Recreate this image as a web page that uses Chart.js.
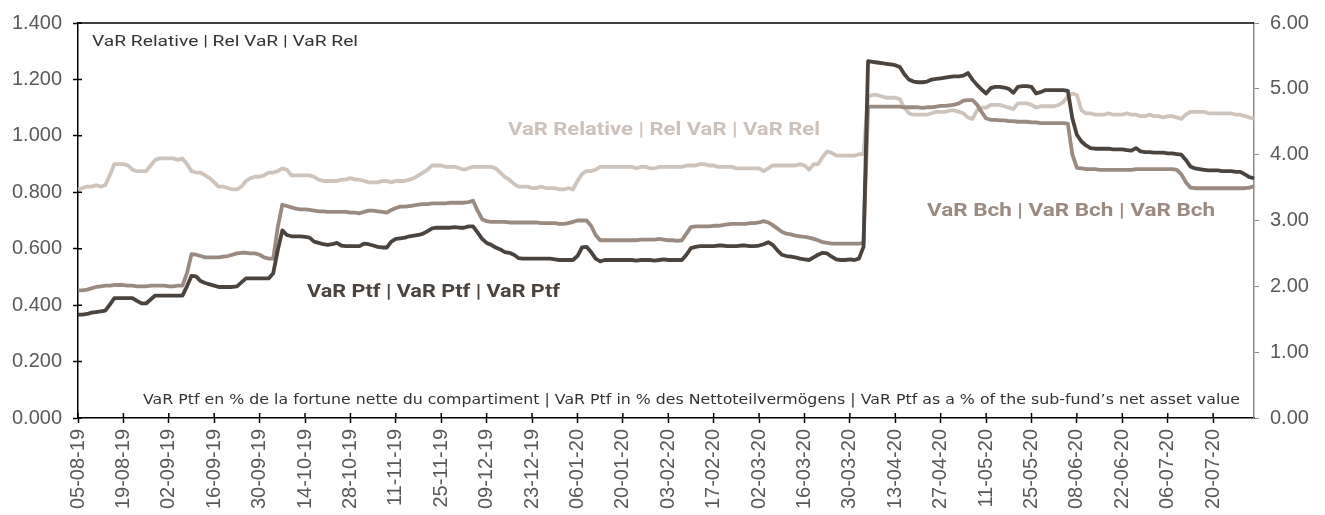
<!DOCTYPE html>
<html>
<head>
<meta charset="utf-8">
<script src="https://cdn.jsdelivr.net/npm/chart.js@4.4.1/dist/chart.umd.min.js"></script>
<style>
html,body{margin:0;padding:0;background:#fff;}
#wrap{width:1325px;height:515px;position:relative;}
</style>
</head>
<body>
<div id="wrap"><canvas id="c" width="1325" height="515"></canvas></div>
<script>
// ---- Data ----
const startDate = '2019-08-05';
const numDays = 260; // business days 05-08-19 .. 31-07-20
const tickLabels = ['05-08-19','19-08-19','02-09-19','16-09-19','30-09-19','14-10-19','28-10-19','11-11-19','25-11-19','09-12-19','23-12-19','06-01-20','20-01-20','03-02-20','17-02-20','02-03-20','16-03-20','30-03-20','13-04-20','27-04-20','11-05-20','25-05-20','08-06-20','22-06-20','06-07-20','20-07-20'];

// VaR Ptf (% , right axis)
const varPtf = [
1.57,1.57,1.58,1.60,1.61,1.62,1.63,1.72,1.82,1.82,
1.82,1.82,1.82,1.78,1.74,1.74,1.80,1.86,1.86,1.86,
1.86,1.86,1.86,1.86,2.00,2.16,2.15,2.08,2.05,2.03,
2.01,1.99,1.99,1.99,1.99,2.00,2.06,2.12,2.12,2.12,
2.12,2.12,2.12,2.20,2.55,2.85,2.78,2.76,2.76,2.76,
2.75,2.74,2.68,2.66,2.64,2.63,2.64,2.66,2.62,2.61,
2.61,2.61,2.61,2.65,2.64,2.62,2.60,2.59,2.59,2.68,
2.72,2.73,2.74,2.76,2.77,2.78,2.80,2.84,2.88,2.89,
2.89,2.89,2.89,2.90,2.89,2.89,2.91,2.91,2.82,2.72,
2.66,2.63,2.59,2.56,2.52,2.51,2.48,2.43,2.42,2.42,
2.42,2.42,2.42,2.42,2.42,2.41,2.40,2.40,2.40,2.40,
2.46,2.59,2.60,2.52,2.42,2.38,2.40,2.40,2.40,2.40,
2.40,2.40,2.40,2.39,2.40,2.40,2.40,2.39,2.40,2.41,
2.40,2.40,2.40,2.40,2.48,2.58,2.60,2.61,2.61,2.61,
2.61,2.62,2.62,2.61,2.61,2.61,2.62,2.62,2.61,2.61,
2.62,2.64,2.67,2.63,2.55,2.48,2.46,2.45,2.44,2.42,
2.41,2.40,2.44,2.48,2.51,2.50,2.45,2.41,2.40,2.40,
2.41,2.40,2.42,2.60,5.42,5.41,5.40,5.39,5.38,5.37,
5.36,5.33,5.22,5.14,5.11,5.10,5.10,5.11,5.14,5.15,
5.16,5.17,5.18,5.19,5.19,5.20,5.24,5.14,5.06,4.99,
4.93,5.01,5.03,5.03,5.02,5.00,4.94,5.03,5.04,5.04,
5.03,4.93,4.95,4.98,4.98,4.98,4.98,4.98,4.97,4.55,
4.30,4.20,4.14,4.10,4.09,4.09,4.09,4.09,4.08,4.08,
4.08,4.07,4.06,4.10,4.05,4.04,4.04,4.03,4.03,4.03,
4.02,4.02,4.01,4.00,3.92,3.82,3.79,3.78,3.77,3.76,
3.76,3.76,3.75,3.75,3.75,3.74,3.74,3.70,3.66,3.64
];

// VaR Bch (% , right axis)
const varBch = [
1.94,1.94,1.95,1.97,1.99,2.00,2.01,2.01,2.02,2.02,
2.02,2.01,2.01,2.00,2.00,2.00,2.01,2.01,2.01,2.01,
2.00,2.00,2.01,2.01,2.20,2.49,2.48,2.46,2.44,2.44,
2.44,2.44,2.45,2.46,2.48,2.50,2.51,2.51,2.50,2.50,
2.48,2.44,2.42,2.42,2.90,3.24,3.22,3.20,3.18,3.17,
3.17,3.16,3.15,3.14,3.14,3.13,3.13,3.13,3.13,3.13,
3.12,3.12,3.11,3.13,3.15,3.15,3.14,3.13,3.12,3.16,
3.19,3.21,3.21,3.22,3.23,3.24,3.25,3.25,3.26,3.26,
3.26,3.26,3.27,3.27,3.27,3.27,3.28,3.30,3.15,3.02,
2.99,2.98,2.98,2.98,2.98,2.97,2.97,2.97,2.97,2.97,
2.97,2.97,2.96,2.96,2.96,2.96,2.95,2.95,2.96,2.98,
3.00,3.00,3.00,2.92,2.78,2.70,2.70,2.70,2.70,2.70,
2.70,2.70,2.70,2.70,2.71,2.71,2.71,2.71,2.72,2.71,
2.70,2.70,2.69,2.70,2.80,2.90,2.91,2.91,2.91,2.91,
2.92,2.92,2.93,2.94,2.95,2.95,2.95,2.95,2.96,2.96,
2.97,2.99,2.97,2.93,2.88,2.83,2.80,2.79,2.77,2.76,
2.75,2.74,2.72,2.70,2.67,2.66,2.65,2.65,2.65,2.65,
2.65,2.65,2.65,2.66,4.73,4.73,4.73,4.73,4.73,4.73,
4.73,4.73,4.72,4.72,4.72,4.72,4.71,4.72,4.72,4.73,
4.74,4.74,4.75,4.76,4.78,4.82,4.83,4.83,4.76,4.65,
4.55,4.53,4.53,4.52,4.52,4.51,4.51,4.50,4.50,4.50,
4.49,4.49,4.48,4.48,4.48,4.48,4.48,4.48,4.47,4.00,
3.80,3.79,3.78,3.78,3.78,3.77,3.77,3.77,3.77,3.77,
3.77,3.77,3.77,3.78,3.78,3.78,3.78,3.78,3.78,3.78,
3.78,3.78,3.77,3.70,3.58,3.50,3.49,3.49,3.49,3.49,
3.49,3.49,3.49,3.49,3.49,3.49,3.49,3.49,3.50,3.52
];

// VaR Relative (ratio, left axis)
const varRel = [
0.81,0.815,0.82,0.82,0.825,0.82,0.825,0.86,0.90,0.90,
0.90,0.895,0.88,0.875,0.875,0.875,0.895,0.915,0.92,0.92,
0.92,0.92,0.915,0.92,0.90,0.875,0.87,0.87,0.86,0.85,
0.835,0.82,0.82,0.815,0.81,0.81,0.82,0.84,0.85,0.855,
0.855,0.86,0.87,0.87,0.875,0.885,0.88,0.86,0.86,0.86,
0.86,0.86,0.855,0.845,0.84,0.84,0.84,0.84,0.845,0.845,
0.85,0.845,0.845,0.84,0.835,0.835,0.835,0.84,0.84,0.835,
0.84,0.84,0.84,0.845,0.85,0.86,0.87,0.88,0.895,0.895,
0.895,0.89,0.89,0.89,0.885,0.88,0.885,0.89,0.89,0.89,
0.89,0.89,0.885,0.87,0.855,0.845,0.83,0.82,0.82,0.82,
0.815,0.815,0.82,0.815,0.815,0.815,0.81,0.81,0.815,0.81,
0.84,0.865,0.875,0.875,0.88,0.89,0.89,0.89,0.89,0.89,
0.89,0.89,0.89,0.885,0.89,0.89,0.885,0.885,0.89,0.89,
0.89,0.89,0.89,0.89,0.895,0.895,0.895,0.90,0.90,0.895,
0.895,0.89,0.89,0.89,0.89,0.885,0.885,0.885,0.885,0.885,
0.885,0.875,0.885,0.895,0.895,0.895,0.895,0.895,0.895,0.90,
0.895,0.88,0.90,0.90,0.925,0.945,0.94,0.93,0.93,0.93,
0.93,0.93,0.935,0.935,1.14,1.145,1.145,1.14,1.135,1.135,
1.135,1.13,1.10,1.08,1.075,1.075,1.075,1.075,1.08,1.085,
1.085,1.085,1.09,1.09,1.085,1.08,1.065,1.06,1.09,1.10,
1.10,1.11,1.11,1.11,1.105,1.10,1.095,1.115,1.115,1.115,
1.11,1.10,1.105,1.105,1.105,1.105,1.11,1.12,1.14,1.15,
1.145,1.09,1.08,1.08,1.075,1.075,1.075,1.08,1.075,1.075,
1.075,1.08,1.075,1.075,1.07,1.07,1.075,1.07,1.07,1.065,
1.07,1.07,1.065,1.06,1.075,1.085,1.085,1.085,1.085,1.08,
1.08,1.08,1.08,1.08,1.08,1.075,1.075,1.07,1.065,1.06
];

// categories: business days (dd-mm-yy)
const categories = [];
(function(){
  const d = new Date(startDate + 'T12:00:00Z');
  while (categories.length < numDays) {
    const wd = d.getUTCDay();
    if (wd !== 0 && wd !== 6) {
      const dd = String(d.getUTCDate()).padStart(2,'0');
      const mm = String(d.getUTCMonth()+1).padStart(2,'0');
      const yy = String(d.getUTCFullYear()).slice(2);
      categories.push(dd + '-' + mm + '-' + yy);
    }
    d.setUTCDate(d.getUTCDate()+1);
  }
})();

const leftTicks = [0,0.2,0.4,0.6,0.8,1.0,1.2,1.4];
const rightTicks = [0,1,2,3,4,5,6];

// ---- Chart ----
const tickFont = {family: '"Liberation Sans", Arial, sans-serif', size: 20};
const tickColor = '#595959';

function fitText(ctx, text, x, y, font, color, width, align) {
  ctx.save();
  ctx.font = font;
  ctx.fillStyle = color;
  ctx.textAlign = 'left';
  ctx.textBaseline = 'alphabetic';
  const w = ctx.measureText(text).width;
  const sx = width / w;
  const x0 = align === 'right' ? x - width : x;
  ctx.translate(x0, y);
  ctx.scale(sx, 1);
  ctx.fillText(text, 0, 0);
  ctx.restore();
}

const decor = {
  id: 'decor',
  afterDraw(chart) {
    const ctx = chart.ctx;
    const {left, right, top, bottom} = chart.chartArea;
    const xs = chart.scales.x, ys = chart.scales.y;
    ctx.save();
    ctx.strokeStyle = '#000';
    ctx.lineWidth = 1.5;
    ctx.beginPath(); ctx.moveTo(left, top); ctx.lineTo(right, top); ctx.stroke();
    ctx.beginPath();
    leftTicks.forEach(v => { const p = ys.getPixelForValue(v); ctx.moveTo(left, p); ctx.lineTo(left + 4, p); });
    categories.forEach((c, i) => { if (tickLabels.includes(c)) { const p = xs.getPixelForValue(i); ctx.moveTo(p, bottom); ctx.lineTo(p, bottom - 5); } });
    ctx.stroke();
    ctx.restore();

    fitText(ctx, 'VaR Relative | Rel VaR | VaR Rel', 92, 46, '15px Roboto, sans-serif', '#333333', 266);
    fitText(ctx, 'VaR Relative | Rel VaR | VaR Rel', 508, 135, 'bold 19px Roboto, sans-serif', '#cdc2bb', 312);
    fitText(ctx, 'VaR Ptf | VaR Ptf | VaR Ptf', 307, 297, 'bold 19px Roboto, sans-serif', '#4b433e', 253);
    fitText(ctx, 'VaR Bch | VaR Bch | VaR Bch', 927, 216, 'bold 19px Roboto, sans-serif', '#9a8a80', 288);
    fitText(ctx, 'VaR Ptf en % de la fortune nette du compartiment | VaR Ptf in % des Nettoteilvermögens | VaR Ptf as a % of the sub-fund\u2019s net asset value', 1240, 404, '14px "DejaVu Sans", sans-serif', '#333333', 1097, 'right');
  }
};

new Chart(document.getElementById('c'), {
  type: 'line',
  data: {
    labels: categories,
    datasets: [
      {label: 'VaR Ptf', data: varPtf, yAxisID: 'y1', borderColor: '#4b433e', borderWidth: 3.8, pointRadius: 0, tension: 0, borderJoinStyle: 'round'},
      {label: 'VaR Bch', data: varBch, yAxisID: 'y1', borderColor: '#9a8a80', borderWidth: 3.8, pointRadius: 0, tension: 0, borderJoinStyle: 'round'},
      {label: 'VaR Relative', data: varRel, yAxisID: 'y', borderColor: '#cfc4bc', borderWidth: 3.8, pointRadius: 0, tension: 0, borderJoinStyle: 'round'}
    ]
  },
  options: {
    responsive: false,
    animation: false,
    devicePixelRatio: 1,
    layout: {padding: {top: 17, left: 0, right: 0, bottom: 0}},
    plugins: {legend: {display: false}, tooltip: {enabled: false}},
    scales: {
      x: {
        type: 'category',
        offset: false,
        grid: {display: true, drawOnChartArea: false, drawTicks: true, tickLength: 5, tickColor: '#000', tickWidth: 1.5},
        border: {display: true, color: '#000', width: 1.5},
        ticks: {
          autoSkip: false, minRotation: 90, maxRotation: 90, padding: 6,
          font: tickFont, color: tickColor,
          callback: function(v, i) { const l = categories[i]; return tickLabels.includes(l) ? l : null; }
        },
        afterFit(s) { s.height = 97; }
      },
      y: {
        position: 'left', min: 0, max: 1.4,
        grid: {display: true, drawOnChartArea: false, drawTicks: true, tickLength: 5, tickColor: '#000', tickWidth: 1.5},
        border: {display: true, color: '#000', width: 1.5},
        afterBuildTicks(s) { s.ticks = leftTicks.map(v => ({value: v})); },
        ticks: {font: tickFont, color: tickColor, padding: 11, callback: v => Number(v).toFixed(3)},
        afterFit(s) { s.width = 78; }
      },
      y1: {
        position: 'right', min: 0, max: 6,
        grid: {display: true, drawOnChartArea: false, drawTicks: true, tickLength: 5, tickColor: '#8c8c8c', tickWidth: 1},
        border: {display: true, color: '#8c8c8c', width: 1.5},
        afterBuildTicks(s) { s.ticks = rightTicks.map(v => ({value: v})); },
        ticks: {font: tickFont, color: tickColor, padding: 11, callback: v => Number(v).toFixed(2)},
        afterFit(s) { s.width = 71; }
      }
    }
  },
  plugins: [decor]
});
</script>
</body>
</html>
